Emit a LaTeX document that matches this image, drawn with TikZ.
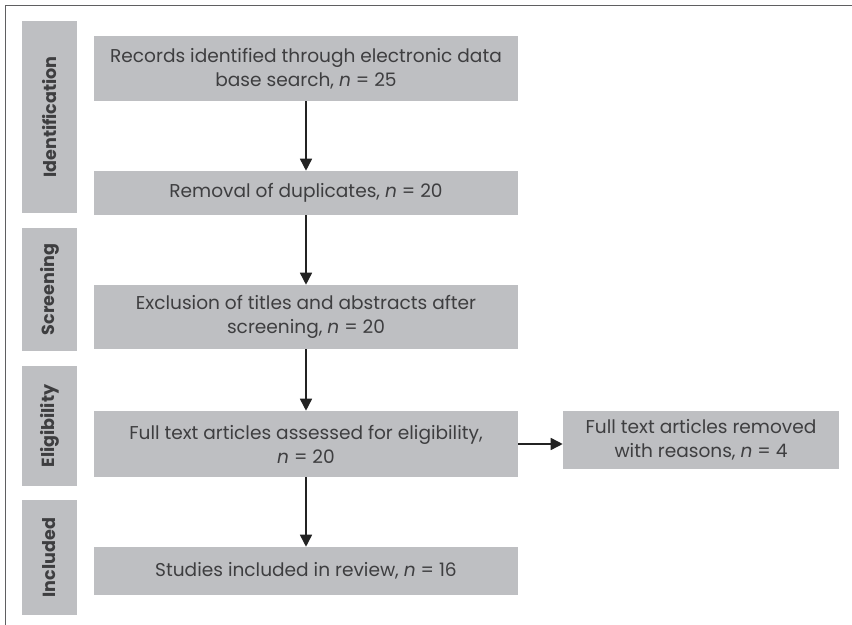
\documentclass[tikz,border=0pt]{standalone}
\usepackage{fontspec}
\setmainfont{Poppins}
\usetikzlibrary{arrows.meta,positioning}

\begin{document}
\begin{tikzpicture}[
  >={Triangle[length=0.3cm,width=0.3cm]},
  font=\fontsize{13.2pt}{17pt}\selectfont,
  box/.style={fill=boxgray,text=textgray,minimum width=10.6cm,
    inner sep=0pt,align=center},
  side box/.style={fill=boxgray,text=textgray,minimum height=6.9cm,
    inner sep=0pt,align=center},
  phase/.style={fill=boxgray,text=textgray,rotate=90,minimum height=1.375cm,
    inner sep=0pt,font=\fontsize{12.5pt}{15pt}\selectfont\bfseries},
  flow/.style={->,line width=1.1pt,draw=arrowgray}]

  \definecolor{boxgray}{RGB}{190,191,194}
  \definecolor{textgray}{RGB}{62,62,64}
  \definecolor{arrowgray}{RGB}{35,35,35}
  \definecolor{framegray}{RGB}{95,95,97}

  \useasboundingbox (0,0) rectangle (21.3,-15.625);

  % frame
  \draw[framegray,line width=1.4pt] (21.3,-0.1375) -- (0.1375,-0.1375) -- (0.1375,-15.625);

  % phases
  \node[phase,minimum width=4.8cm] (ident) at (1.2375,-2.925) {Identification};
  \node[phase,minimum width=3.075cm] (screen) at (1.2375,-7.2375) {Screening};
  \node[phase,minimum width=3.0cm] (elig) at (1.2375,-10.65) {Eligibility};
  \node[phase,minimum width=2.875cm] (incl) at (1.2375,-13.9375) {Included};

  % blocks
  \node[box,minimum height=1.625cm] (records) at (7.65,-1.7125)
    {Records identified through electronic data\\base search, \textit{n} = 25};
  \node[box,minimum height=1.1cm] (dupl) at (7.65,-4.825)
    {Removal of duplicates, \textit{n} = 20};
  \node[box,minimum height=1.6cm] (excl) at (7.65,-7.925)
    {Exclusion of titles and abstracts after\\screening, \textit{n} = 20};
  \node[box,minimum height=1.65cm] (full) at (7.65,-11.1)
    {Full text articles assessed for eligibility,\\\textit{n} = 20};
  \node[box,minimum height=1.2cm] (incd) at (7.65,-14.275)
    {Studies included in review, \textit{n} = 16};
  \node[side box,minimum height=1.45cm,minimum width=6.9cm] (removed) at (17.525,-11.0)
    {Full text articles removed\\with reasons, \textit{n} = 4};

  % arrows
  \draw[flow] (records) -- (dupl);
  \draw[flow] (dupl) -- (excl);
  \draw[flow] (excl) -- (full);
  \draw[flow] (full) -- (incd);
  \draw[flow] (full.east) -- (full.east -| removed.west);
\end{tikzpicture}
\end{document}
